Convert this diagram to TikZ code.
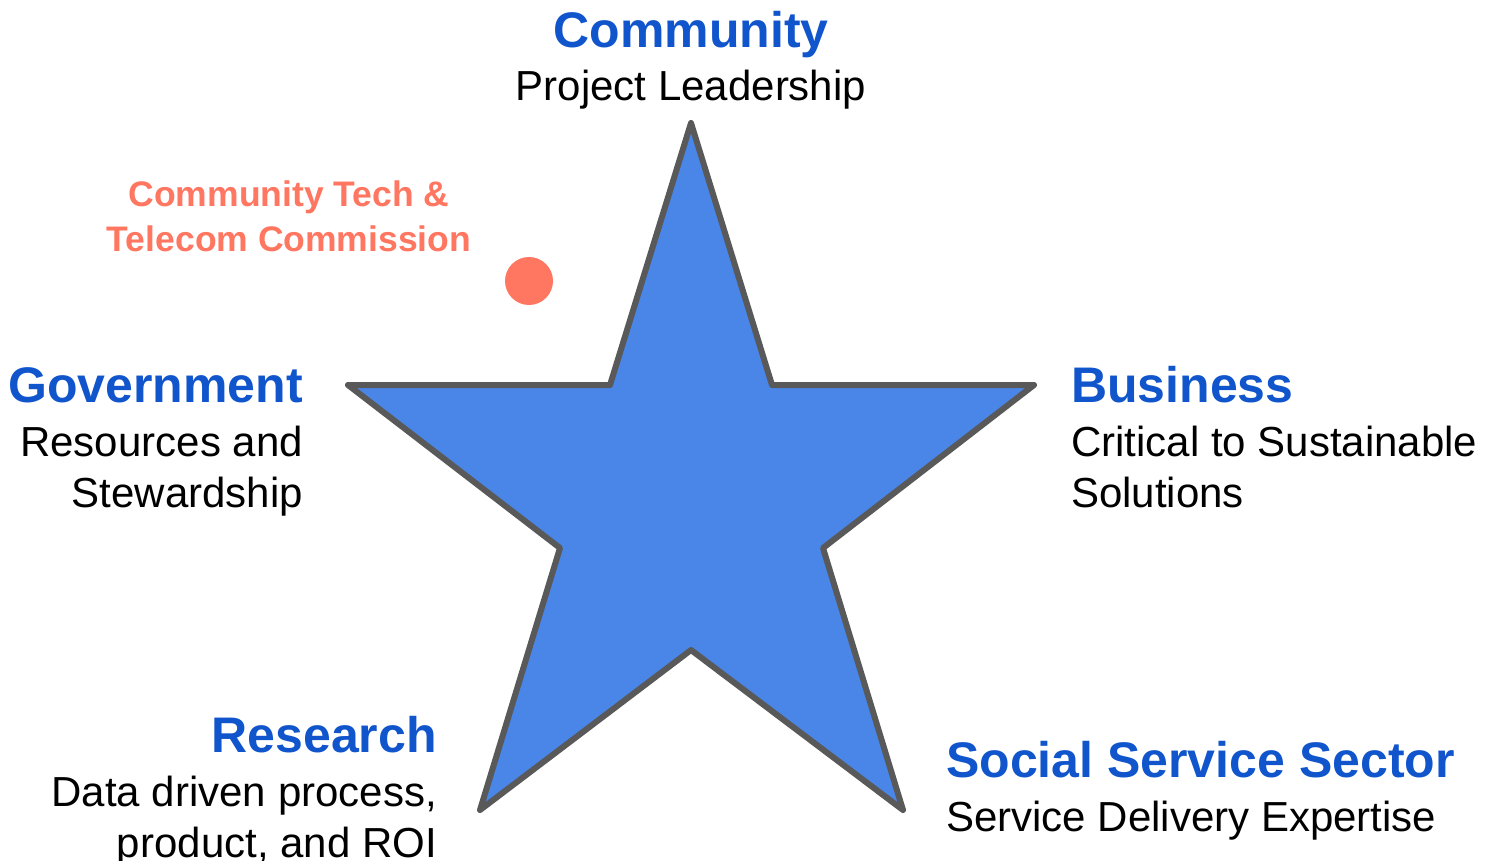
\documentclass[tikz,border=0pt]{standalone}
\usepackage{fontspec}
\setmainfont{Liberation Sans}
\definecolor{headblue}{HTML}{1155CC}
\definecolor{starblue}{HTML}{4A86E8}
\definecolor{staredge}{HTML}{595959}
\definecolor{coral}{HTML}{FF7661}
\begin{document}
\begin{tikzpicture}[x=1pt,y=-1pt,
  heading/.style={inner sep=0pt,text=headblue,font=\fontsize{50}{56}\selectfont\bfseries},
  caption/.style={inner sep=0pt,text=black,font=\fontsize{42}{51}\selectfont},
  note/.style={inner sep=0pt,text=coral,align=center,font=\fontsize{35.5}{44}\selectfont\bfseries}]
\useasboundingbox (0,0) rectangle (1498,861);
% five-pointed star
\draw[line width=6pt,line join=round,draw=staredge,fill=starblue]
  (691,123) -- (610,385) -- (348,385) -- (560,548) -- (480,810) -- (691,650)
  -- (903,810) -- (823,548) -- (1034,385) -- (772,385) -- cycle;
% commission marker (multi-line nodes are anchored on their last line)
\fill[coral] (529,281) circle[radius=24];
\node[note,anchor=base] (ctc) at (289,251) {Community Tech \&\\Telecom Commission};
% top
\node[heading,anchor=base] (comm) at (691,48) {Community};
\node[caption,anchor=base] (commd) at (691,101) {Project Leadership};
% left
\node[heading,anchor=base east] (gov) at (303,402) {Government};
\node[caption,anchor=base east,align=right] (govd) at (303,507) {Resources and\\Stewardship};
% right
\node[heading,anchor=base west] (bus) at (1071,402) {Business};
\node[caption,anchor=base west,align=left] (busd) at (1071,507) {Critical to Sustainable\\Solutions};
% bottom left
\node[heading,anchor=base east] (res) at (437,752) {Research};
\node[caption,anchor=base east,align=right] (resd) at (437,857) {Data driven process,\\product, and ROI};
% bottom right
\node[heading,anchor=base west] (soc) at (946,777) {Social Service Sector};
\node[caption,anchor=base west] (socd) at (946,831) {Service Delivery Expertise};
\end{tikzpicture}
\end{document}
